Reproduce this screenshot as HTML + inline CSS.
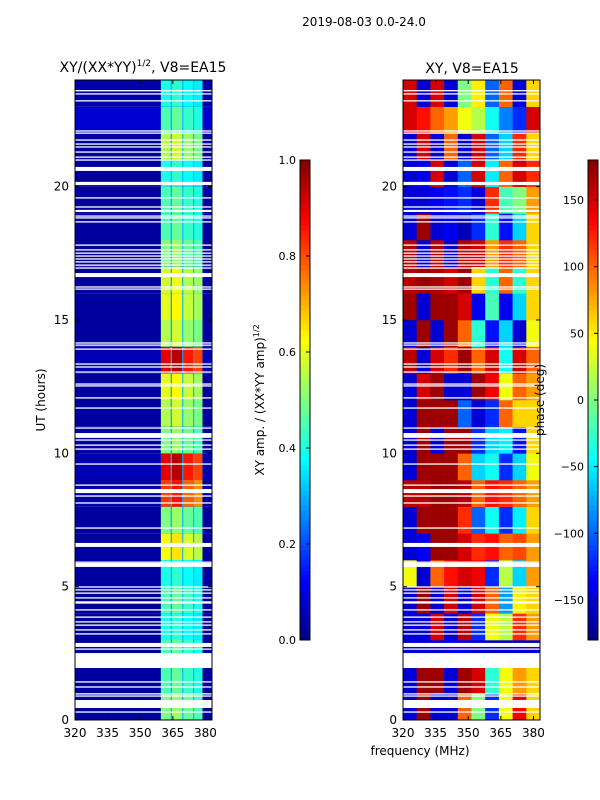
<!DOCTYPE html>
<html><head><meta charset="utf-8">
<style>
body{margin:0;background:#fff;}
svg{display:block;font-family:"DejaVu Sans","Liberation Sans",sans-serif;}
</style></head>
<body>
<svg id="fig" width="600" height="800" viewBox="0 0 600 800" xmlns="http://www.w3.org/2000/svg">
<text x="364" y="26" font-size="12" text-anchor="middle">2019-08-03 0.0-24.0</text>
<text x="143" y="72" font-size="14" text-anchor="middle">XY/(XX*YY)<tspan font-size="9" dy="-6">1/2</tspan><tspan dy="6">, V8=EA15</tspan></text>
<text x="472" y="73" font-size="14" text-anchor="middle">XY, V8=EA15</text>
<g id="ampG"></g>
<g id="phG"></g>
<g id="axG"></g>
<text transform="translate(45,400) rotate(-90)" font-size="12" text-anchor="middle">UT (hours)</text>
<text x="420" y="755" font-size="12" text-anchor="middle">frequency (MHz)</text>
<text transform="translate(264,400) rotate(-90)" font-size="12" text-anchor="middle">XY amp. / (XX*YY amp)<tspan font-size="8" dy="-5">1/2</tspan></text>
<text transform="translate(544,400) rotate(-90)" font-size="12" text-anchor="middle">phase (deg)</text>
</svg>
<script>
// ---- data ----
const gapThin = [23.60,23.48,23.22,22.09,22.01,21.75,21.60,21.49,21.30,21.11,21.00,19.58,19.24,18.90,18.83,18.68,17.81,17.63,17.51,17.40,17.29,17.18,17.06,16.95,16.24,16.16,14.14,14.06,13.91,13.35,13.24,13.05,12.60,12.53,12.08,11.70,10.95,10.50,10.31,10.16,9.60,8.81,8.40,8.14,7.20,5.92,4.99,4.88,4.76,4.58,4.43,4.39,4.13,3.86,3.68,3.56,3.38,3.23,2.66,1.43,1.24,0.98,0.90,0.30];
const gapStart = [20.59,20.06,19.05,16.61,10.58,8.51,6.49,5.74,2.74,1.95,0.45];
const gapEnd   = [20.74,20.18,19.13,16.76,10.76,8.66,6.64,5.89,2.89,2.51,0.75];
const hours = [0,1,2,3,4,5,6,7,8,9,10,11,12,13,14,15,16,17,18,19,20,21,22,23];
const ampStripe = [0.5,0.45,0.45,0.4,0.45,0.4,0.62,0.5,0.82,0.9,0.5,0.55,0.6,0.9,0.55,0.6,0.58,0.5,0.45,0.45,0.4,0.55,0.45,0.4];
const ampBackground = [0.03,0.03,0.03,0.03,0.03,0.03,0.03,0.03,0.04,0.05,0.03,0.03,0.03,0.05,0.03,0.03,0.03,0.03,0.03,0.03,0.03,0.03,0.08,0.04];
const stripeLo = [359.5,364.6,369.8,374.8];
const stripeHi = [364.0,369.3,374.3,378.6];
const stripeGain = [1.0,1.05,0.95,0.9];
const phaseCols = [320,326.3,332.6,338.9,345.2,351.5,357.8,364.1,370.4,376.7,383];
const phase = [
[-150,170,-150,-150,100,0,-120,40,140,60],
[-150,170,170,-150,170,150,-30,40,80,60],
[-150,-150,-150,-140,-140,-150,-150,-150,-150,-150],
[-150,-150,150,-150,160,-120,40,20,120,80],
[-150,170,-150,150,-150,150,100,-80,50,60],
[40,-150,100,130,150,140,-120,20,-60,80],
[-150,-140,170,170,150,120,130,100,110,80],
[-150,170,170,170,120,-100,-40,-120,-50,60],
[160,160,170,170,160,100,130,120,100,80],
[-150,170,170,170,100,-60,-40,-120,-60,40],
[-150,170,-150,170,170,-120,-60,-50,-130,60],
[-150,170,170,170,-100,-150,-120,100,60,60],
[-150,150,170,-150,-150,170,140,40,100,80],
[160,-150,150,120,170,100,150,-40,150,100],
[-150,170,-150,170,100,-30,-130,-60,-150,40],
[170,-150,170,170,150,-140,-20,-140,-60,60],
[160,170,165,150,170,60,-30,100,-30,60],
[160,-150,160,-150,160,150,80,120,100,60],
[-150,170,-150,-140,-160,-120,-30,-130,-60,60],
[-150,-150,-140,-130,-120,-150,120,-20,0,80],
[-150,-140,150,-150,-100,150,-50,100,150,120],
[-150,150,-150,100,-150,150,-100,-60,120,60],
[150,130,100,80,40,20,-40,-90,-120,150],
[150,-150,150,-150,0,50,-100,100,-150,60]
];
const xTicks = [320,335,350,365,380];
const yTicks = [0,5,10,15,20];
const ampTicks = [0.0,0.2,0.4,0.6,0.8,1.0];
const phTicks = [-150,-100,-50,0,50,100,150];

// ---- helpers ----
const NS='http://www.w3.org/2000/svg';
function jet(v){v=Math.max(0,Math.min(1,v));const c=t=>Math.round(255*Math.max(0,Math.min(1,1.5-Math.abs(4*v-t))));return `rgb(${c(3)},${c(2)},${c(1)})`;}
function mk(tag,attrs,parent){const e=document.createElementNS(NS,tag);for(const k in attrs)e.setAttribute(k,attrs[k]);parent.appendChild(e);return e;}
const Y0=720,Y1=80;
const yS=h=>Y0-(Y0-Y1)*h/24;
const L={x0:75,x1:212}, R={x0:403,x1:540};
const xS=(p,f)=>p.x0+(f-320)*(p.x1-p.x0)/(383-320);
const ampG=document.getElementById('ampG'), phG=document.getElementById('phG'), axG=document.getElementById('axG');

// amplitude panel
hours.forEach((h,i)=>{
  const r=mk('rect',{x:L.x0,y:yS(h+1),width:L.x1-L.x0,height:yS(h)-yS(h+1),fill:jet(ampBackground[i])},ampG);
  
  
  const sep=mk('rect',{x:xS(L,stripeLo[0]),y:yS(h+1),width:xS(L,stripeHi[3])-xS(L,stripeLo[0]),height:yS(h)-yS(h+1),fill:jet(0.3)},ampG);
  
  
  stripeLo.forEach((lo,k)=>{
    const c=mk('rect',{x:xS(L,lo),y:yS(h+1),width:xS(L,stripeHi[k])-xS(L,lo),height:yS(h)-yS(h+1),fill:jet(ampStripe[i]*stripeGain[k])},ampG);
    
    
  });
});
// phase panel
hours.forEach((h,i)=>{
  phase[i].forEach((v,j)=>{
    const c=mk('rect',{x:xS(R,phaseCols[j]),y:yS(h+1),width:xS(R,phaseCols[j+1])-xS(R,phaseCols[j])+0.3,height:yS(h)-yS(h+1)+0.3,fill:jet((v+180)/360)},phG);
    
    
  });
});
// gaps (flagged rows)
[L,R].forEach(p=>{
  const g=(p===L)?ampG:phG;
  gapThin.forEach(h=>{
    const r=mk('rect',{x:p.x0,y:yS(h)-0.6,width:p.x1-p.x0,height:1.3,fill:'#fff'},g);
    
    
  });
  gapStart.forEach((s,k)=>{
    const r=mk('rect',{x:p.x0,y:yS(gapEnd[k]),width:p.x1-p.x0,height:yS(s)-yS(gapEnd[k]),fill:'#fff'},g);
    
    
  });
});
// axes
[L,R].forEach(p=>{
  const f=mk('rect',{x:p.x0,y:Y1,width:p.x1-p.x0,height:Y0-Y1,fill:'none',stroke:'#000','stroke-width':1},axG);
  
  
  xTicks.forEach(t=>{
    const x=xS(p,t);
    mk('line',{x1:x,x2:x,y1:Y0,y2:Y0-4,stroke:'#000'},axG);
    mk('line',{x1:x,x2:x,y1:Y1,y2:Y1+4,stroke:'#000'},axG);
    const tx=mk('text',{x:x,y:Y0+17,'font-size':12,'text-anchor':'middle'},axG);
    tx.textContent=t;
    
    
  });
  yTicks.forEach(t=>{
    const y=yS(t);
    mk('line',{x1:p.x0,x2:p.x0+4,y1:y,y2:y,stroke:'#000'},axG);
    mk('line',{x1:p.x1,x2:p.x1-4,y1:y,y2:y,stroke:'#000'},axG);
    const tx=mk('text',{x:p.x0-6,y:y+4,'font-size':12,'text-anchor':'end'},axG);
    tx.textContent=t;
    
    
  });
});
// colorbars
function colorbar(x,ticks,vmin,vmax,fmt,name){
  const y0=640,y1=160,n=96;
  for(let i=0;i<n;i++){
    const r=mk('rect',{x:x,y:y0-(i+1)*(y0-y1)/n,width:10,height:(y0-y1)/n+0.5,fill:jet((i+0.5)/n)},axG);
    
    
  }
  const f=mk('rect',{x:x,y:y1,width:10,height:y0-y1,fill:'none',stroke:'#000'},axG);
  
  
  ticks.forEach(t=>{
    const y=y0-(t-vmin)/(vmax-vmin)*(y0-y1);
    mk('line',{x1:x+10,x2:x+6,y1:y,y2:y,stroke:'#000'},axG);
    const tx=mk('text',{x:x-4,y:y+4,'font-size':11,'text-anchor':'end'},axG);
    tx.textContent=fmt(t);
    
    
  });
}
colorbar(300,ampTicks,0,1,t=>t.toFixed(1),'amp-colorbar');
colorbar(588,phTicks,-180,180,t=>t<0?'\u2212'+(-t):String(t),'phase-colorbar');
</script>
</body></html>
